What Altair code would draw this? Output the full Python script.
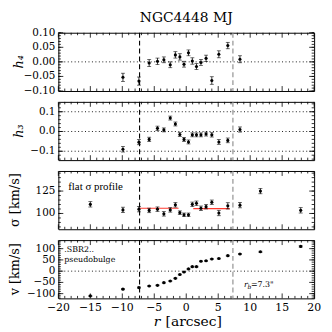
import altair as alt
import pandas as pd

# ---------------- data ----------------
r_all = [-15.0, -9.9, -7.4, -5.8, -4.5, -3.5, -2.5, -1.7, -1.0, -0.35, 0.35,
         0.95, 1.6, 2.3, 3.1, 4.0, 5.1, 6.5, 8.4, 11.6, 17.9]
r_inner = r_all[1:19]

h4 = [-0.053, -0.066, -0.004, 0.002, 0.007, -0.010, 0.024, 0.017, -0.008,
      0.031, 0.003, -0.016, -0.002, 0.012, -0.064, 0.026, 0.056, 0.009]
h4_err = [0.014, 0.014, 0.012, 0.011, 0.010, 0.010, 0.011, 0.011, 0.010,
          0.010, 0.011, 0.010, 0.010, 0.011, 0.013, 0.012, 0.011, 0.012]

h3 = [-0.090, -0.054, -0.040, 0.016, 0.008, 0.068, 0.038, -0.015, -0.040,
      -0.053, -0.017, -0.017, -0.017, -0.013, -0.017, -0.053, -0.045, 0.010]
h3_err = [0.014, 0.013, 0.011, 0.011, 0.010, 0.010, 0.010, 0.010, 0.010,
          0.010, 0.010, 0.010, 0.010, 0.010, 0.011, 0.012, 0.012, 0.013]

sigma = [110.2, 104.0, 104.8, 103.4, 104.8, 99.6, 104.0, 109.6, 100.9, 98.5,
         98.5, 110.2, 111.4, 105.8, 107.6, 112.5, 100.5, 108.5, 109.3, 125.0,
         103.5]
sigma_err = [3.0, 3.0, 3.0, 2.5, 2.5, 2.5, 2.5, 2.5, 2.0, 2.0, 2.0, 2.5, 2.5,
             2.5, 2.5, 2.5, 3.0, 3.5, 3.0, 3.0, 3.0]

vel = [-110, -80, -73, -66, -63, -51, -44, -32, -15, -4, 10, 20, 20, 44, 46,
       54, 56, 69, 76, 86, 110]
vel_err = [2.5, 2.5, 2.5, 2, 2, 2, 2, 2, 2, 2, 2, 2, 2, 2, 2, 2, 2, 2, 2.5,
           2.5, 3]

flat_r_start = [-7.3, 1.1]
flat_r_end = [-1.2, 6.8]
flat_sigma = [105.8, 105.5]

r_break = [-7.3, 7.3]
break_color = ["black", "#888888"]

# tick values and tick labels
x_major = [-20, -15, -10, -5, 0, 5, 10, 15, 20]
x_labels = ["\u221220", "\u221215", "\u221210", "\u22125", "0", "5", "10",
            "15", "20"]
x_minor = [v for v in range(-19, 20) if v % 5 != 0]

h4_major = [-0.1, -0.05, 0.0, 0.05, 0.1]
h4_labels = ["\u22120.10", "\u22120.05", "0.00", "0.05", "0.10"]
h4_minor = [round(-0.1 + 0.01 * i, 2) for i in range(21)]

h3_major = [-0.1, 0.0, 0.1]
h3_labels = ["\u22120.1", "0.0", "0.1"]
h3_minor = [round(-0.14 + 0.02 * i, 2) for i in range(15)]

sig_major = [100, 125]
sig_labels = ["100", "125"]
sig_minor = list(range(85, 146, 5))

v_major = [-100, -50, 0, 50, 100]
v_labels = ["\u2212100", "\u221250", "0", "50", "100"]
v_minor = list(range(-120, 131, 10))

W, H = 259, 59
SERIF = "DejaVu Serif"

x_scale = alt.Scale(domain=[-20, 20], nice=False, zero=False)


def txt(t, x, y, size, **kw):
    return alt.Chart(pd.DataFrame({"t": [t]})).mark_text(
        font=kw.pop("font", SERIF), fontSize=size, color="black", **kw
    ).encode(x=alt.value(x), y=alt.value(y), text="t:N")


def panel(rs, vals, errs, domain, majors, labels, minors, title, hlines,
          show_x=False, title_italic=False, title_x=-44, extra=None):
    df = pd.DataFrame({"r": rs, "val": vals, "err": errs})
    df["lo"] = df["val"] - df["err"]
    df["hi"] = df["val"] + df["err"]
    ys = alt.Scale(domain=domain, nice=False, zero=False)
    X = lambda f: alt.X(f, scale=x_scale, axis=None)
    Y = lambda f: alt.Y(f, scale=ys, axis=None)

    base = alt.Chart(df)
    layers = []
    if hlines:
        layers.append(alt.Chart(pd.DataFrame({"h": hlines})).mark_rule(
            color="black", strokeWidth=0.9, strokeDash=[1, 2.5]).encode(
            y=Y("h:Q")))
    layers.append(alt.Chart(pd.DataFrame({"rb": r_break, "c": break_color}))
                  .mark_rule(strokeWidth=1.1, strokeDash=[5, 3]).encode(
        x=X("rb:Q"), color=alt.Color("c:N", scale=None)))
    if extra is not None:
        layers.extend(extra(X, Y))
    layers.append(base.mark_rule(color="black", strokeWidth=0.8).encode(
        x=X("r:Q"), y=Y("lo:Q"), y2="hi:Q"))
    for f in ("lo", "hi"):
        layers.append(base.mark_tick(color="black", orient="horizontal",
                                     size=4, thickness=0.8).encode(
            x=X("r:Q"), y=Y(f + ":Q")))
    layers.append(base.mark_point(filled=True, size=10, color="black",
                                  opacity=1).encode(x=X("r:Q"), y=Y("val:Q")))
    # inward matplotlib-style ticks on all four sides
    for vals_, ln in ((majors, 5), (minors, 2.5)):
        c = alt.Chart(pd.DataFrame({"t": vals_})).mark_rule(
            color="black", strokeWidth=0.8)
        layers.append(c.encode(y=Y("t:Q"), x=alt.value(0), x2=alt.value(ln)))
        layers.append(c.encode(y=Y("t:Q"), x=alt.value(W),
                               x2=alt.value(W - ln)))
    for vals_, ln in ((x_major, 5), (x_minor, 2.5)):
        c = alt.Chart(pd.DataFrame({"t": vals_})).mark_rule(
            color="black", strokeWidth=0.8)
        layers.append(c.encode(x=X("t:Q"), y=alt.value(0), y2=alt.value(ln)))
        layers.append(c.encode(x=X("t:Q"), y=alt.value(H),
                               y2=alt.value(H - ln)))
    # y tick labels
    layers.append(alt.Chart(pd.DataFrame({"t": majors, "lab": labels}))
                  .mark_text(align="right", baseline="middle", font=SERIF,
                             fontSize=10.5, color="black").encode(
        y=Y("t:Q"), x=alt.value(-3), text="lab:N"))
    # y title
    layers.append(txt(title, title_x, H / 2, 13, angle=270, align="center",
                      baseline="middle",
                      fontStyle="italic" if title_italic else "normal"))
    if show_x:
        layers.append(alt.Chart(pd.DataFrame({"t": x_major, "lab": x_labels}))
                      .mark_text(align="center", baseline="middle", font=SERIF,
                                 fontSize=11, color="black").encode(
            x=X("t:Q"), y=alt.value(H + 10), text="lab:N"))
        layers.append(txt("r", W / 2 - 33, H + 24, 14, align="left",
                          baseline="middle", fontStyle="italic"))
        layers.append(txt("[arcsec]", W / 2 - 21, H + 24, 14, align="left",
                          baseline="middle"))
    return alt.layer(*layers).properties(width=W, height=H)


def sigma_extra(X, Y):
    d = pd.DataFrame({"a": flat_r_start, "b": flat_r_end, "s": flat_sigma})
    line = alt.Chart(d).mark_rule(color="#ff3b30", strokeWidth=1.2).encode(
        x=X("a:Q"), x2="b:Q", y=Y("s:Q"))
    return [line, txt("flat σ profile", 10, 16, 11, align="left",
                      baseline="middle", font="Liberation Serif")]


def vel_extra(X, Y):
    out = []
    for t, xx, yy, fs in ((".SBR2..", 6, 10, 8), ("pseudobulge", 6, 20, 8),
                          ("r", 188, 45, 8), ("b", 191.5, 48, 6),
                          ("=7.3\"", 195, 45, 8)):
        out.append(txt(t, xx, yy, fs, align="left", baseline="middle",
                       fontStyle="italic" if t in ("r", "b") else "normal"))
    return out


p1 = panel(r_inner, h4, h4_err, [-0.1, 0.1], h4_major, h4_labels, h4_minor,
           "h\u2084", [0], title_italic=True, title_x=-40).properties(
    title=alt.TitleParams("NGC4448 MJ", font=SERIF, fontSize=14,
                          fontWeight="normal", color="black", offset=3,
                          frame="group"))
p2 = panel(r_inner, h3, h3_err, [-0.145, 0.15], h3_major, h3_labels, h3_minor,
           "h\u2083", [-0.1, 0, 0.1], title_italic=True, title_x=-40)
p3 = panel(r_all, sigma, sigma_err, [82.4, 147.4], sig_major, sig_labels,
           sig_minor, "σ [km/s]", [], extra=sigma_extra)
p4 = panel(r_all, vel, vel_err, [-121, 138], v_major, v_labels, v_minor,
           "v [km/s]", [0], show_x=True, extra=vel_extra)

chart = alt.vconcat(p1, p2, p3, p4, spacing=11, bounds="flush").properties(
    padding={"left": 0, "top": 0, "right": 2, "bottom": 0}
).configure_view(stroke="black", strokeWidth=1)

chart.save("out.html", embed_options={"renderer": "svg", "actions": False})
